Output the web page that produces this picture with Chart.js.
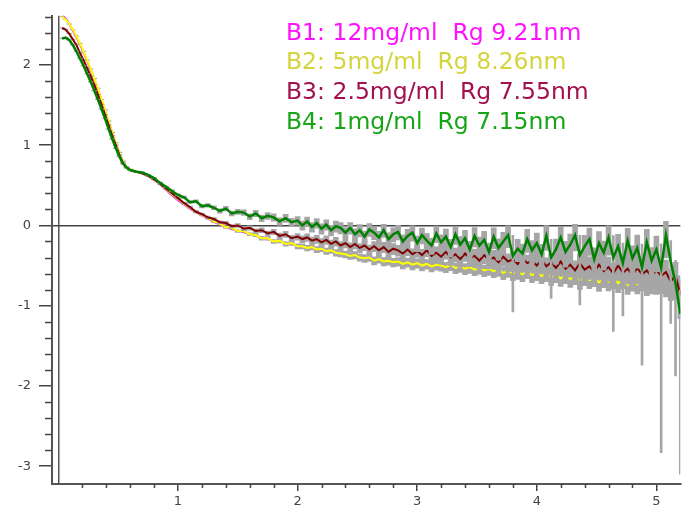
<!DOCTYPE html>
<html>
<head>
<meta charset="utf-8">
<script src="https://cdn.jsdelivr.net/npm/chart.js@4.4.1/dist/chart.umd.min.js"></script>
<style>
  body { margin: 0; background: #fff; }
  #wrap { width: 694px; height: 512px; }
</style>
</head>
<body>
<div id="wrap"><canvas id="myChart" width="694" height="512"></canvas></div>
<script>
// scattering vector (x axis), shared by all four curves
const q = [
  0.03, 0.06, 0.09, 0.12, 0.15, 0.18, 0.21, 0.24, 0.27, 0.30,
  0.33, 0.36, 0.39, 0.42, 0.45, 0.48, 0.51, 0.54, 0.57, 0.60,
  0.65, 0.70, 0.75, 0.80, 0.85, 0.90, 0.95, 1.00, 1.05, 1.10,
  1.15, 1.20, 1.25, 1.30, 1.35, 1.40, 1.45, 1.50, 1.55, 1.60,
  1.65, 1.70, 1.75, 1.80, 1.85, 1.90, 1.95, 2.00,
  2.04, 2.08, 2.12, 2.16, 2.20, 2.24, 2.28, 2.32, 2.36, 2.40,
  2.44, 2.48, 2.52, 2.56, 2.60, 2.64, 2.68, 2.72, 2.76, 2.80,
  2.84, 2.88, 2.92, 2.96, 3.00, 3.04, 3.08, 3.12, 3.16, 3.20,
  3.24, 3.28, 3.32, 3.36, 3.40, 3.44, 3.48, 3.52, 3.56, 3.60,
  3.64, 3.68, 3.72, 3.76, 3.80, 3.84, 3.88, 3.92, 3.96, 4.00,
  4.04, 4.08, 4.12, 4.16, 4.20, 4.24, 4.28, 4.32, 4.36, 4.40,
  4.44, 4.48, 4.52, 4.56, 4.60, 4.64, 4.68, 4.72, 4.76, 4.80,
  4.84, 4.88, 4.92, 4.96, 5.00, 5.04, 5.08, 5.12, 5.16, 5.20
];

// log intensity, B1 12mg/ml
const b1 = [
  2.62, 2.58, 2.51, 2.43, 2.35, 2.26, 2.16, 2.05, 1.94, 1.82,
  1.69, 1.56, 1.43, 1.29, 1.15, 1.02, 0.90, 0.79, 0.72, 0.69,
  0.67, 0.645, 0.615, 0.57, 0.51, 0.445, 0.375, 0.315, 0.26, 0.21,
  0.165, 0.125, 0.085, 0.045, 0.01, -0.02, -0.045, -0.065, -0.085, -0.105,
  -0.13, -0.15, -0.17, -0.19, -0.205, -0.22, -0.235, -0.25,
  -0.27, -0.27, -0.29, -0.29, -0.31, -0.31, -0.33, -0.33, -0.35, -0.37,
  -0.37, -0.39, -0.39, -0.42, -0.42, -0.43, -0.44, -0.44, -0.46, -0.45,
  -0.47, -0.47, -0.48, -0.48, -0.49, -0.49, -0.50, -0.50, -0.51, -0.51,
  -0.51, -0.52, -0.52, -0.53, -0.53, -0.54, -0.54, -0.55, -0.55, -0.56,
  -0.56, -0.57, -0.57, -0.58, -0.59, -0.59, -0.60, -0.60, -0.61, -0.61,
  -0.62, -0.62, -0.63, -0.63, -0.64, -0.64, -0.65, -0.66, -0.66, -0.67,
  -0.67, -0.68, -0.68, -0.69, -0.69, -0.69, -0.70, -0.70, -0.71, -0.71,
  -0.71, -0.72, -0.72, -0.72, -0.73, -0.73, -0.74, -0.74, -0.75, -0.75
];

// B2 5mg/ml
const b2 = [
  2.60, 2.57, 2.51, 2.44, 2.36, 2.27, 2.17, 2.06, 1.95, 1.83,
  1.71, 1.57, 1.44, 1.30, 1.16, 1.03, 0.91, 0.80, 0.73, 0.70,
  0.67, 0.65, 0.62, 0.575, 0.52, 0.455, 0.39, 0.33, 0.27, 0.22,
  0.17, 0.13, 0.09, 0.05, 0.02, -0.02, -0.03, -0.07, -0.07, -0.11,
  -0.12, -0.16, -0.16, -0.20, -0.19, -0.23, -0.22, -0.26,
  -0.26, -0.28, -0.27, -0.30, -0.29, -0.32, -0.31, -0.34, -0.35, -0.36,
  -0.38, -0.37, -0.40, -0.41, -0.40, -0.44, -0.42, -0.45, -0.44, -0.46,
  -0.45, -0.48, -0.46, -0.49, -0.47, -0.50, -0.48, -0.51, -0.49, -0.50,
  -0.52, -0.49, -0.53, -0.51, -0.54, -0.52, -0.55, -0.53, -0.56, -0.54,
  -0.57, -0.55, -0.59, -0.56, -0.60, -0.58, -0.61, -0.57, -0.62, -0.59,
  -0.63, -0.60, -0.65, -0.61, -0.66, -0.62, -0.67, -0.63, -0.69, -0.64,
  -0.68, -0.65, -0.71, -0.66, -0.70, -0.64, -0.72, -0.67, -0.74, -0.66,
  -0.73, -0.68, -0.75, -0.67, -0.73, -0.69, -0.76, -0.70, -0.78, -0.74
];

// B3 2.5mg/ml
const b3 = [
  2.46, 2.44, 2.39, 2.32, 2.25, 2.15, 2.06, 1.96, 1.86, 1.75,
  1.63, 1.51, 1.38, 1.25, 1.12, 1.00, 0.88, 0.78, 0.72, 0.69,
  0.67, 0.65, 0.62, 0.575, 0.52, 0.46, 0.40, 0.34, 0.28, 0.23,
  0.17, 0.14, 0.10, 0.08, 0.04, 0.03, -0.01, 0.00, -0.04, -0.03,
  -0.07, -0.06, -0.10, -0.08, -0.13, -0.11, -0.16, -0.14,
  -0.17, -0.15, -0.19, -0.17, -0.21, -0.18, -0.23, -0.20, -0.25, -0.22,
  -0.27, -0.23, -0.28, -0.25, -0.30, -0.26, -0.31, -0.27, -0.33, -0.29,
  -0.31, -0.35, -0.30, -0.36, -0.32, -0.37, -0.31, -0.38, -0.34, -0.39,
  -0.33, -0.40, -0.36, -0.42, -0.35, -0.41, -0.38, -0.44, -0.37, -0.43,
  -0.40, -0.46, -0.39, -0.45, -0.42, -0.48, -0.41, -0.47, -0.44, -0.50,
  -0.43, -0.51, -0.46, -0.53, -0.45, -0.54, -0.49, -0.56, -0.47, -0.55,
  -0.51, -0.58, -0.49, -0.57, -0.52, -0.60, -0.50, -0.59, -0.54, -0.62,
  -0.53, -0.61, -0.56, -0.64, -0.55, -0.63, -0.58, -0.70, -0.62, -0.86
];

// B4 1mg/ml
const b4 = [
  2.33, 2.34, 2.31, 2.25, 2.17, 2.08, 1.99, 1.89, 1.79, 1.68,
  1.57, 1.45, 1.33, 1.20, 1.08, 0.96, 0.86, 0.77, 0.72, 0.69,
  0.67, 0.66, 0.63, 0.59, 0.53, 0.48, 0.43, 0.38, 0.35, 0.29,
  0.30, 0.24, 0.25, 0.22, 0.18, 0.21, 0.15, 0.17, 0.16, 0.11,
  0.15, 0.09, 0.12, 0.10, 0.05, 0.09, 0.04, 0.06,
  0.00, 0.05, -0.02, 0.03, -0.04, 0.01, -0.06, -0.01, -0.03, -0.09,
  -0.03, -0.11, -0.06, -0.14, -0.05, -0.09, -0.15, -0.06, -0.17, -0.11,
  -0.08, -0.20, -0.13, -0.09, -0.22, -0.12, -0.19, -0.25, -0.10, -0.21,
  -0.14, -0.27, -0.11, -0.24, -0.16, -0.30, -0.13, -0.25, -0.18, -0.33,
  -0.14, -0.28, -0.20, -0.12, -0.38, -0.29, -0.35, -0.17, -0.31, -0.22,
  -0.36, -0.13, -0.40, -0.30, -0.15, -0.33, -0.24, -0.12, -0.37, -0.26,
  -0.17, -0.42, -0.22, -0.34, -0.15, -0.40, -0.26, -0.47, -0.19, -0.41,
  -0.28, -0.52, -0.21, -0.44, -0.30, -0.53, -0.12, -0.45, -0.72, -1.10
];

// relative errors of the intensity (gray bars)
const e2 = [
  0.004, 0.004, 0.004, 0.004, 0.004, 0.005, 0.005, 0.005, 0.005, 0.005,
  0.006, 0.006, 0.006, 0.006, 0.007, 0.007, 0.007, 0.008, 0.008, 0.008,
  0.01, 0.01, 0.011, 0.012, 0.013, 0.014, 0.015, 0.016, 0.018, 0.02,
  0.022, 0.024, 0.026, 0.028, 0.03, 0.032, 0.035, 0.038, 0.04, 0.043,
  0.046, 0.05, 0.053, 0.057, 0.06, 0.064, 0.068, 0.072,
  0.075, 0.08, 0.078, 0.085, 0.082, 0.09, 0.088, 0.095, 0.093, 0.1,
  0.098, 0.105, 0.102, 0.11, 0.108, 0.115, 0.112, 0.12, 0.118, 0.125,
  0.122, 0.13, 0.127, 0.135, 0.132, 0.14, 0.137, 0.145, 0.142, 0.15,
  0.147, 0.155, 0.152, 0.16, 0.157, 0.165, 0.162, 0.17, 0.167, 0.175,
  0.172, 0.18, 0.177, 0.185, 0.182, 0.19, 0.187, 0.195, 0.192, 0.2,
  0.197, 0.205, 0.202, 0.21, 0.207, 0.215, 0.212, 0.22, 0.217, 0.225,
  0.222, 0.23, 0.227, 0.235, 0.232, 0.24, 0.237, 0.245, 0.242, 0.25,
  0.247, 0.255, 0.252, 0.26, 0.257, 0.265, 0.262, 0.27, 0.28, 0.3
];

const e3 = [
  0.005, 0.005, 0.005, 0.005, 0.005, 0.006, 0.006, 0.006, 0.006, 0.007,
  0.007, 0.007, 0.008, 0.008, 0.008, 0.009, 0.009, 0.01, 0.01, 0.01,
  0.012, 0.013, 0.014, 0.015, 0.017, 0.019, 0.021, 0.023, 0.026, 0.029,
  0.032, 0.035, 0.038, 0.041, 0.044, 0.047, 0.05, 0.054, 0.058, 0.062,
  0.066, 0.07, 0.074, 0.078, 0.082, 0.086, 0.09, 0.095,
  0.1, 0.11, 0.105, 0.115, 0.11, 0.12, 0.118, 0.125, 0.122, 0.13,
  0.128, 0.135, 0.132, 0.14, 0.138, 0.145, 0.142, 0.15, 0.148, 0.16,
  0.155, 0.165, 0.16, 0.17, 0.168, 0.18, 0.175, 0.185, 0.18, 0.19,
  0.188, 0.2, 0.195, 0.21, 0.205, 0.215, 0.21, 0.22, 0.218, 0.23,
  0.225, 0.24, 0.235, 0.25, 0.245, 0.255, 0.25, 0.26, 0.258, 0.27,
  0.265, 0.28, 0.275, 0.29, 0.285, 0.3, 0.295, 0.31, 0.305, 0.32,
  0.315, 0.33, 0.325, 0.34, 0.335, 0.35, 0.345, 0.36, 0.355, 0.37,
  0.365, 0.38, 0.375, 0.39, 0.385, 0.4, 0.41, 0.42, 0.45, 0.5
];

const e4 = [
  0.006, 0.006, 0.006, 0.006, 0.007, 0.007, 0.007, 0.008, 0.008, 0.008,
  0.009, 0.009, 0.01, 0.01, 0.011, 0.011, 0.012, 0.012, 0.013, 0.013,
  0.015, 0.016, 0.018, 0.02, 0.022, 0.025, 0.028, 0.031, 0.034, 0.038,
  0.042, 0.046, 0.05, 0.055, 0.06, 0.065, 0.07, 0.075, 0.08, 0.085,
  0.09, 0.095, 0.1, 0.105, 0.11, 0.115, 0.12, 0.125,
  0.13, 0.135, 0.14, 0.138, 0.145, 0.15, 0.148, 0.155, 0.16, 0.158,
  0.165, 0.17, 0.175, 0.172, 0.18, 0.185, 0.19, 0.188, 0.195, 0.2,
  0.205, 0.21, 0.208, 0.215, 0.22, 0.225, 0.23, 0.228, 0.235, 0.24,
  0.245, 0.25, 0.255, 0.26, 0.258, 0.265, 0.27, 0.275, 0.28, 0.285,
  0.29, 0.295, 0.3, 0.305, 0.80, 0.31, 0.315, 0.32, 0.325, 0.33,
  0.335, 0.34, 0.69, 0.345, 0.35, 0.355, 0.36, 0.365, 0.76, 0.37,
  0.375, 0.38, 0.39, 0.395, 0.4, 0.88, 0.41, 0.78, 0.42, 0.43,
  0.44, 0.94, 0.45, 0.46, 0.47, 0.995, 0.48, 0.83, 0.93, 0.99
];

const seriesLabels = [
  'B1: 12mg/ml  Rg 9.21nm',
  'B2: 5mg/ml  Rg 8.26nm',
  'B3: 2.5mg/ml  Rg 7.55nm',
  'B4: 1mg/ml  Rg 7.15nm'
];
const lineColors = ['#ff00ff', '#ffff00', '#800000', '#008000'];
const textColors = ['#ff10ff', '#d4d43c', '#a3104e', '#17a517'];
const xLabels = [1, 2, 3, 4, 5];
const yLabels = [-3, -2, -1, 0, 1, 2];

Chart.defaults.font.family = "'DejaVu Sans', sans-serif";
Chart.defaults.font.size = 13;

function isWhole(v) { return Math.abs(v - Math.round(v)) < 1e-6; }

function points(ys) {
  return q.map((x, i) => ({ x: x, y: ys[i] }));
}
function errBars(ys, es, keep) {
  return q.map((x, i) => ({ x: x, y: [ys[i] + Math.log10(1 - es[i]), ys[i] + Math.log10(1 + es[i])] }))
    .filter((p, i) => keep(es[i]));
}
function lineSet(i, ys, order) {
  return {
    type: 'line', label: seriesLabels[i], data: points(ys),
    borderColor: lineColors[i], backgroundColor: lineColors[i],
    borderWidth: i === 3 ? 2.5 : 2, pointRadius: 0, tension: 0, order: order
  };
}
// ordinary error bars are wide enough to join into a band,
// the few very large ones are drawn as thin spikes
function errSets(ys, es, order) {
  return [
    { type: 'bar', data: errBars(ys, es, e => e < 0.6), backgroundColor: '#a6a6a6',
      barThickness: 5, grouped: false, order: order },
    { type: 'bar', data: errBars(ys, es, e => e >= 0.6), backgroundColor: '#a6a6a6',
      barThickness: 2, grouped: false, order: order }
  ];
}

// minor ticks are shorter than the labelled ones
const minorTicks = {
  id: 'minorTicks',
  afterDraw(chart) {
    const { ctx, chartArea, scales } = chart;
    ctx.save();
    ctx.strokeStyle = '#444';
    ctx.lineWidth = 1.5;
    ctx.beginPath();
    scales.y.ticks.forEach(t => {
      if (isWhole(t.value)) return;
      const py = Math.round(scales.y.getPixelForValue(t.value)) + 0.5;
      ctx.moveTo(chartArea.left - 7, py);
      ctx.lineTo(chartArea.left, py);
    });
    scales.x.ticks.forEach(t => {
      if (isWhole(t.value)) return;
      const px = Math.round(scales.x.getPixelForValue(t.value)) + 0.5;
      ctx.moveTo(px, chartArea.bottom);
      ctx.lineTo(px, chartArea.bottom + 4);
    });
    ctx.stroke();
    ctx.restore();
  }
};

// coloured sample names in the upper right
const seriesText = {
  id: 'seriesText',
  afterDraw(chart) {
    const ctx = chart.ctx;
    ctx.save();
    ctx.font = "23.5px 'DejaVu Sans'";
    ctx.textBaseline = 'alphabetic';
    seriesLabels.forEach((t, i) => {
      ctx.fillStyle = textColors[i];
      ctx.fillText(t, 286, 39.5 + 29.8 * i);
    });
    ctx.restore();
  }
};

const ctx = document.getElementById('myChart');

const myChart = new Chart(ctx, {
  type: 'line',
  data: {
    datasets: [
      lineSet(0, b1, 7),
      ...errSets(b2, e2, 6),
      lineSet(1, b2, 5),
      ...errSets(b3, e3, 4),
      lineSet(2, b3, 3),
      ...errSets(b4, e4, 2),
      lineSet(3, b4, 1)
    ]
  },
  options: {
    responsive: false,
    animation: false,
    events: [],
    layout: { padding: { left: 0, top: 12, right: 13.7, bottom: 0 } },
    plugins: {
      legend: { display: false },
      tooltip: { enabled: false }
    },
    scales: {
      x: {
        type: 'linear',
        min: -0.0535,
        max: 5.2,
        offset: false,
        afterBuildTicks: s => { s.ticks = s.ticks.filter(t => t.value < 5.1); },
        afterFit: s => { s.height = 28; },
        ticks: {
          stepSize: 0.2,
          includeBounds: false,
          autoSkip: false,
          maxRotation: 0,
          padding: 3,
          color: '#444',
          callback: v => xLabels.includes(Math.round(v * 10) / 10) ? String(Math.round(v)) : ''
        },
        grid: {
          offset: false,
          lineWidth: 1.5,
          color: c => (c.tick && Math.abs(c.tick.value) < 1e-6) ? '#555' : 'transparent',
          tickLength: 7,
          tickWidth: 1.5,
          tickColor: c => (c.tick && isWhole(c.tick.value) && Math.abs(c.tick.value) > 1e-6) ? '#444' : 'transparent'
        },
        border: { color: '#555', width: 2 }
      },
      y: {
        type: 'linear',
        min: -3.222,
        max: 2.612,
        afterBuildTicks: s => { s.ticks = s.ticks.filter(t => t.value > -3.1); },
        afterFit: s => { s.width = 52; },
        ticks: {
          stepSize: 0.2,
          includeBounds: false,
          autoSkip: false,
          padding: 8,
          color: '#444',
          callback: v => yLabels.includes(Math.round(v * 10) / 10) ? String(Math.round(v)) : ''
        },
        grid: {
          lineWidth: 1.5,
          color: c => (c.tick && Math.abs(c.tick.value) < 1e-6) ? '#444' : 'transparent',
          tickLength: 13,
          tickWidth: 1.5,
          tickColor: c => (c.tick && isWhole(c.tick.value)) ? '#444' : 'transparent'
        },
        border: { color: '#555', width: 2 }
      }
    }
  },
  plugins: [minorTicks, seriesText]
});
</script>
</body>
</html>
